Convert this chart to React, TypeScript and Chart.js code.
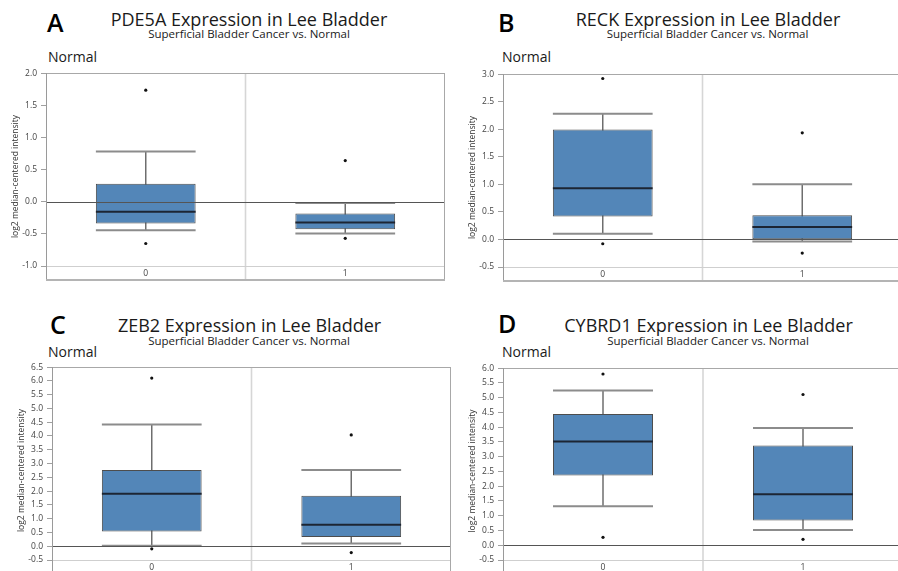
import React, { useEffect, useRef } from "react";
import { Chart, registerables } from "chart.js";

Chart.register(...registerables);

// ---------- shared ----------
const categories = ["0", "1"];
const yAxisTitle = "log2 median-centered intensity";
const subtitleText = "Superficial Bladder Cancer vs. Normal";
const groupLabel = "Normal";

// ---------- Panel A : PDE5A ----------
const pde5aQ1 = [-0.34, -0.43];
const pde5aMedian = [-0.155, -0.325];
const pde5aQ3 = [0.28, -0.185];
const pde5aWhiskerLow = [-0.445, -0.495];
const pde5aWhiskerHigh = [0.78, -0.02];
const pde5aOutlierCategory = ["0", "0", "1", "1"];
const pde5aOutlierValue = [1.735, -0.65, 0.64, -0.57];
const pde5aTicks = [-1.0, -0.5, 0.0, 0.5, 1.0, 1.5, 2.0];

// ---------- Panel B : RECK ----------
const reckQ1 = [0.415, 0.005];
const reckMedian = [0.928, 0.225];
const reckQ3 = [1.995, 0.44];
const reckWhiskerLow = [0.102, -0.036];
const reckWhiskerHigh = [2.28, 1.0];
const reckOutlierCategory = ["0", "0", "1", "1"];
const reckOutlierValue = [2.92, -0.078, 1.935, -0.247];
const reckTicks = [-0.5, 0.0, 0.5, 1.0, 1.5, 2.0, 2.5, 3.0];

// ---------- Panel C : ZEB2 ----------
const zeb2Q1 = [0.53, 0.337];
const zeb2Median = [1.9, 0.78];
const zeb2Q3 = [2.768, 1.83];
const zeb2WhiskerLow = [0.015, 0.096];
const zeb2WhiskerHigh = [4.417, 2.77];
const zeb2OutlierCategory = ["0", "0", "1", "1"];
const zeb2OutlierValue = [6.1, -0.096, 4.04, -0.229];
const zeb2Ticks = [-0.5, 0.0, 0.5, 1.0, 1.5, 2.0, 2.5, 3.0, 3.5, 4.0, 4.5, 5.0, 5.5, 6.0, 6.5];

// ---------- Panel D : CYBRD1 ----------
const cybrd1Q1 = [2.362, 0.84];
const cybrd1Median = [3.515, 1.724];
const cybrd1Q3 = [4.444, 3.381];
const cybrd1WhiskerLow = [1.321, 0.515];
const cybrd1WhiskerHigh = [5.239, 3.974];
const cybrd1OutlierCategory = ["0", "0", "1", "1"];
const cybrd1OutlierValue = [5.8, 0.269, 5.105, 0.2];
const cybrd1Ticks = [-0.5, 0.0, 0.5, 1.0, 1.5, 2.0, 2.5, 3.0, 3.5, 4.0, 4.5, 5.0, 5.5, 6.0];

type PanelData = {
  letter: string;
  gene: string;
  q1: number[];
  median: number[];
  q3: number[];
  wLow: number[];
  wHigh: number[];
  outCat: string[];
  outVal: number[];
  ticks: number[];
};

type PanelLayout = {
  left: number;
  top: number;
  width: number;
  height: number;
  yWidth: number;
};

const FONT = "'Open Sans', 'Noto Sans', sans-serif";

const boxPlugin = {
  id: "boxplot",
  beforeDatasetsDraw(chart: any, _args: any, opts: any) {
    const d: PanelData = opts.data;
    if (!d) return;
    const { ctx, chartArea: ca } = chart;
    const x = chart.scales.x;
    const y = chart.scales.y;
    const bandBottom = ca.bottom + 14;
    ctx.save();
    // category separators
    ctx.strokeStyle = "#d6d6d6";
    ctx.lineWidth = 1.6;
    for (let i = 0; i < categories.length - 1; i++) {
      const sx = (x.getPixelForValue(i) + x.getPixelForValue(i + 1)) / 2;
      ctx.beginPath();
      ctx.moveTo(sx, ca.top);
      ctx.lineTo(sx, bandBottom);
      ctx.stroke();
    }
    // bottom (min) line
    ctx.strokeStyle = "#cfcfcf";
    ctx.lineWidth = 1;
    ctx.beginPath();
    ctx.moveTo(ca.left, Math.round(ca.bottom) + 0.5);
    ctx.lineTo(ca.right, Math.round(ca.bottom) + 0.5);
    ctx.stroke();
    // whiskers
    const meta = chart.getDatasetMeta(0);
    categories.forEach((_c, i) => {
      const cx = x.getPixelForValue(i);
      const bw = meta.data[i] ? meta.data[i].width : 100;
      const yl = y.getPixelForValue(d.wLow[i]);
      const yh = y.getPixelForValue(d.wHigh[i]);
      ctx.strokeStyle = "#6e6e6e";
      ctx.lineWidth = 1.5;
      ctx.beginPath();
      ctx.moveTo(cx, yl);
      ctx.lineTo(cx, yh);
      ctx.stroke();
      ctx.strokeStyle = "#8c8c8c";
      ctx.lineWidth = 2;
      ctx.beginPath();
      ctx.moveTo(cx - bw / 2, yh);
      ctx.lineTo(cx + bw / 2, yh);
      ctx.moveTo(cx - bw / 2, yl);
      ctx.lineTo(cx + bw / 2, yl);
      ctx.stroke();
    });
    ctx.restore();
  },
  afterDatasetsDraw(chart: any, _args: any, opts: any) {
    const d: PanelData = opts.data;
    if (!d) return;
    const { ctx, chartArea: ca } = chart;
    const x = chart.scales.x;
    const y = chart.scales.y;
    const meta = chart.getDatasetMeta(0);
    ctx.save();
    // medians
    categories.forEach((_c, i) => {
      const cx = x.getPixelForValue(i);
      const bw = meta.data[i] ? meta.data[i].width : 100;
      const ym = y.getPixelForValue(d.median[i]);
      ctx.strokeStyle = "#1c2533";
      ctx.lineWidth = 2;
      ctx.beginPath();
      ctx.moveTo(cx - bw / 2, ym);
      ctx.lineTo(cx + bw / 2, ym);
      ctx.stroke();
    });
    // zero line
    const y0 = Math.round(y.getPixelForValue(0)) + 0.5;
    ctx.strokeStyle = "#555555";
    ctx.lineWidth = 1;
    ctx.beginPath();
    ctx.moveTo(ca.left, y0);
    ctx.lineTo(ca.right, y0);
    ctx.stroke();
    ctx.restore();
  },
  afterDraw(chart: any, _args: any, opts: any) {
    const d: PanelData = opts.data;
    if (!d) return;
    const { ctx, chartArea: ca } = chart;
    const bandBottom = ca.bottom + 14;
    ctx.save();
    // frame
    ctx.strokeStyle = "#a8a8a8";
    ctx.lineWidth = 1;
    ctx.beginPath();
    ctx.moveTo(ca.left, Math.round(ca.top) + 0.5);
    ctx.lineTo(ca.right, Math.round(ca.top) + 0.5);
    ctx.moveTo(Math.round(ca.right) - 0.5, ca.top);
    ctx.lineTo(Math.round(ca.right) - 0.5, bandBottom);
    ctx.stroke();
    ctx.strokeStyle = "#9a9a9a";
    ctx.beginPath();
    ctx.moveTo(Math.round(ca.left) + 0.5, ca.top);
    ctx.lineTo(Math.round(ca.left) + 0.5, bandBottom);
    ctx.stroke();
    ctx.strokeStyle = "#b4b4b4";
    ctx.lineWidth = 2;
    ctx.beginPath();
    ctx.moveTo(ca.left, bandBottom);
    ctx.lineTo(ca.right, bandBottom);
    ctx.stroke();
    // y axis title
    ctx.fillStyle = "#333";
    ctx.font = `8.5px ${FONT}`;
    ctx.textAlign = "center";
    ctx.textBaseline = "middle";
    ctx.translate(ca.left - 30, (ca.top + bandBottom) / 2);
    ctx.rotate(-Math.PI / 2);
    ctx.fillText(yAxisTitle, 0, 0);
    ctx.restore();
  },
};

function BoxChart({ data, layout }: { data: PanelData; layout: PanelLayout }) {
  const ref = useRef<HTMLCanvasElement | null>(null);
  useEffect(() => {
    if (!ref.current) return;
    const ticks = data.ticks;
    const chart = new Chart(ref.current, {
      type: "bar",
      data: {
        labels: categories,
        datasets: [
          {
            type: "bar",
            data: categories.map((_c, i) => [data.q1[i], data.q3[i]]) as any,
            backgroundColor: "#5386b8",
            borderColor: "#4d4d4d",
            borderWidth: 1,
            borderSkipped: false,
            barPercentage: 0.5,
            categoryPercentage: 1.0,
          } as any,
          {
            type: "line",
            data: data.outVal.map((v, i) => ({ x: data.outCat[i], y: v })) as any,
            showLine: false,
            pointRadius: 1.6,
            pointBackgroundColor: "#111111",
            pointBorderWidth: 0,
            borderColor: "#111111",
          } as any,
        ],
      },
      options: {
        responsive: false,
        animation: false,
        devicePixelRatio: 1,
        layout: { padding: { top: 8, left: 0, right: 0, bottom: 0 } },
        plugins: {
          legend: { display: false },
          tooltip: { enabled: false },
          title: { display: false },
          boxplot: { data },
        } as any,
        scales: {
          x: {
            type: "category",
            offset: true,
            grid: { display: false, drawTicks: false },
            border: { display: false },
            ticks: { color: "#444", font: { size: 8.5, family: FONT }, padding: 2, maxRotation: 0 },
            afterFit: (s: any) => {
              s.height = 15;
            },
          },
          y: {
            type: "linear",
            min: ticks[0],
            max: ticks[ticks.length - 1],
            afterBuildTicks: (s: any) => {
              s.ticks = ticks.map((v) => ({ value: v }));
            },
            afterFit: (s: any) => {
              s.width = layout.yWidth;
            },
            grid: {
              display: true,
              drawOnChartArea: false,
              drawTicks: true,
              tickLength: 5,
              tickColor: "#a0a0a0",
              color: "rgba(0,0,0,0)",
            },
            border: { display: false },
            ticks: {
              color: "#444",
              font: { size: 8.5, family: FONT },
              padding: 4,
              callback: (v: any) => Number(v).toFixed(1),
            },
          },
        },
      } as any,
      plugins: [boxPlugin as any],
    });
    return () => chart.destroy();
  }, [data, layout]);
  return (
    <canvas
      ref={ref}
      width={layout.width}
      height={layout.height}
      style={{
        position: "absolute",
        left: layout.left,
        top: layout.top,
        width: layout.width,
        height: layout.height,
      }}
    />
  );
}

function Txt({
  x,
  baseline,
  size,
  center,
  color,
  weight,
  children,
}: {
  x: number;
  baseline: number;
  size: number;
  center?: boolean;
  color?: string;
  weight?: number;
  children: React.ReactNode;
}) {
  return (
    <div
      style={{
        position: "absolute",
        left: x,
        top: baseline - 0.888 * size,
        fontSize: size,
        lineHeight: 1,
        fontFamily: FONT,
        fontWeight: weight || 400,
        color: color || "#1a1a1a",
        whiteSpace: "nowrap",
        transform: center ? "translateX(-50%)" : undefined,
      }}
    >
      {children}
    </div>
  );
}

const panelA: PanelData = {
  letter: "A",
  gene: "PDE5A",
  q1: pde5aQ1,
  median: pde5aMedian,
  q3: pde5aQ3,
  wLow: pde5aWhiskerLow,
  wHigh: pde5aWhiskerHigh,
  outCat: pde5aOutlierCategory,
  outVal: pde5aOutlierValue,
  ticks: pde5aTicks,
};
const panelB: PanelData = {
  letter: "B",
  gene: "RECK",
  q1: reckQ1,
  median: reckMedian,
  q3: reckQ3,
  wLow: reckWhiskerLow,
  wHigh: reckWhiskerHigh,
  outCat: reckOutlierCategory,
  outVal: reckOutlierValue,
  ticks: reckTicks,
};
const panelC: PanelData = {
  letter: "C",
  gene: "ZEB2",
  q1: zeb2Q1,
  median: zeb2Median,
  q3: zeb2Q3,
  wLow: zeb2WhiskerLow,
  wHigh: zeb2WhiskerHigh,
  outCat: zeb2OutlierCategory,
  outVal: zeb2OutlierValue,
  ticks: zeb2Ticks,
};
const panelD: PanelData = {
  letter: "D",
  gene: "CYBRD1",
  q1: cybrd1Q1,
  median: cybrd1Median,
  q3: cybrd1Q3,
  wLow: cybrd1WhiskerLow,
  wHigh: cybrd1WhiskerHigh,
  outCat: cybrd1OutlierCategory,
  outVal: cybrd1OutlierValue,
  ticks: cybrd1Ticks,
};

const layoutA: PanelLayout = { left: 0, top: 64, width: 449, height: 217, yWidth: 46 };
const layoutB: PanelLayout = { left: 450, top: 65, width: 456, height: 217, yWidth: 53 };
const layoutC: PanelLayout = { left: 0, top: 358, width: 455, height: 217, yWidth: 52 };
const layoutD: PanelLayout = { left: 450, top: 359, width: 457, height: 216, yWidth: 53 };

type Labels = {
  letterX: number;
  letterBase: number;
  titleX: number;
  titleBase: number;
  subX: number;
  subBase: number;
  normalX: number;
  normalBase: number;
};

const labelsA: Labels = { letterX: 47, letterBase: 31.7, titleX: 249, titleBase: 25.7, subX: 249, subBase: 38.7, normalX: 48, normalBase: 62.7 };
const labelsB: Labels = { letterX: 498, letterBase: 31.7, titleX: 708, titleBase: 25.7, subX: 707.5, subBase: 38.7, normalX: 502, normalBase: 62.7 };
const labelsC: Labels = { letterX: 50, letterBase: 334.3, titleX: 249.5, titleBase: 331.7, subX: 249, subBase: 345.7, normalX: 48, normalBase: 357.3 };
const labelsD: Labels = { letterX: 498, letterBase: 333.3, titleX: 708.5, titleBase: 331.7, subX: 708, subBase: 345.7, normalX: 502, normalBase: 357.3 };

function Panel({ data, layout, labels }: { data: PanelData; layout: PanelLayout; labels: Labels }) {
  return (
    <>
      <Txt x={labels.letterX} baseline={labels.letterBase} size={25} weight={600} color="#000">
        {data.letter}
      </Txt>
      <Txt x={labels.titleX} baseline={labels.titleBase} size={18} weight={500} center>
        {`${data.gene} Expression in Lee Bladder`}
      </Txt>
      <Txt x={labels.subX} baseline={labels.subBase} size={11.5} weight={500} center>
        {subtitleText}
      </Txt>
      <Txt x={labels.normalX} baseline={labels.normalBase} size={14}>
        {groupLabel}
      </Txt>
      <BoxChart data={data} layout={layout} />
    </>
  );
}

export default function App() {
  return (
    <div
      style={{
        position: "fixed",
        left: 0,
        top: 0,
        width: 898,
        height: 571,
        overflow: "hidden",
        background: "#fff",
      }}
    >
      <Panel data={panelA} layout={layoutA} labels={labelsA} />
      <Panel data={panelB} layout={layoutB} labels={labelsB} />
      <Panel data={panelC} layout={layoutC} labels={labelsC} />
      <Panel data={panelD} layout={layoutD} labels={labelsD} />
    </div>
  );
}
